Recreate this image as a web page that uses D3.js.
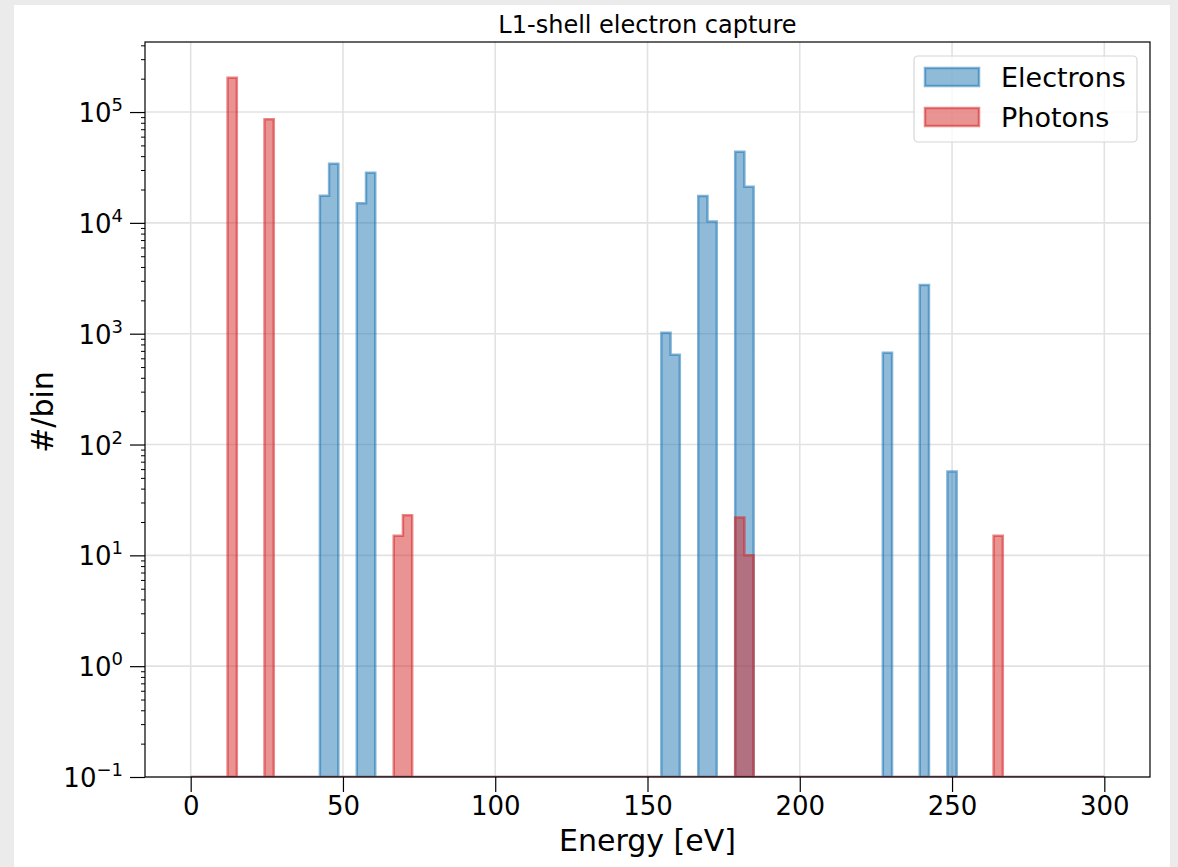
<!DOCTYPE html>
<html>
<head>
<meta charset="utf-8">
<script src="https://cdn.jsdelivr.net/npm/d3@7"></script>
<style>
  html, body { margin: 0; padding: 0; background: #ebebeb; }
  svg { display: block; }
  text { font-family: "DejaVu Sans", sans-serif; fill: #000; }
</style>
</head>
<body>
<script>
// ---- data ----
const title = "L1-shell electron capture";
const xLabel = "Energy [eV]";
const yLabel = "#/bin";
const binRange = [0, 300];
const binCount = 99;               // 100 edges from 0 to 300
const electronBins   = [14, 15, 18, 19, 51, 52, 55, 56, 59, 60, 75, 79, 82];
const electronCounts = [17600, 34100, 15000, 28300, 1020, 646, 17500, 10300, 43800, 21200, 673, 2750, 57];
const photonBins     = [4, 8, 22, 23, 59, 60, 87];
const photonCounts   = [204000, 86000, 15, 23, 22, 10, 15];
const xTicks = [0, 50, 100, 150, 200, 250, 300];
const yTickExponents = [-1, 0, 1, 2, 3, 4, 5];
const seriesNames = ["Electrons", "Photons"];

// ---- layout ----
const W = 1178, H = 867;
const M = { left: 145, right: 1150, top: 42, bottom: 777 };

const svg = d3.select("body").append("svg").attr("width", W).attr("height", H);
svg.append("rect").attr("x", 0).attr("y", 0).attr("width", W).attr("height", H).attr("fill", "#ebebeb");
svg.append("rect").attr("x", 14).attr("y", 5).attr("width", 1156).attr("height", H - 5).attr("fill", "#ffffff");

const x = d3.scaleLinear().domain([-15, 315]).range([M.left, M.right]);
const y = d3.scaleLog().domain([0.1, Math.pow(10, 5.632)]).range([M.bottom, M.top]);

const binWidth = (binRange[1] - binRange[0]) / binCount;
const edges = d3.range(binCount + 1).map(i => binRange[0] + i * binWidth);

function fullCounts(bins, counts) {
  const arr = new Array(binCount).fill(0);
  bins.forEach((b, i) => { arr[b] = counts[i]; });
  return arr;
}
const series = [
  { name: seriesNames[0], counts: fullCounts(electronBins, electronCounts), fill: "rgba(31,119,180,0.5)", stroke: "rgba(31,119,180,0.55)" },
  { name: seriesNames[1], counts: fullCounts(photonBins, photonCounts), fill: "rgba(214,39,40,0.5)", stroke: "rgba(214,39,40,0.55)" }
];

// clip
svg.append("defs").append("clipPath").attr("id", "plotclip")
  .append("rect").attr("x", M.left).attr("y", M.top)
  .attr("width", M.right - M.left).attr("height", M.bottom - M.top);

// grid
const grid = svg.append("g");
xTicks.forEach(t => {
  grid.append("line").attr("x1", x(t)).attr("x2", x(t)).attr("y1", M.top).attr("y2", M.bottom)
    .attr("stroke", "#e2e2e2").attr("stroke-width", 1.6);
});
yTickExponents.forEach(e => {
  const yy = y(Math.pow(10, e));
  grid.append("line").attr("x1", M.left).attr("x2", M.right).attr("y1", yy).attr("y2", yy)
    .attr("stroke", "#e2e2e2").attr("stroke-width", 1.6);
});

// histograms (stepfilled)
const yMin = y.domain()[0];
const plotG = svg.append("g").attr("clip-path", "url(#plotclip)");
series.forEach(s => {
  const pts = [[edges[0], yMin]];
  s.counts.forEach((c, i) => {
    const v = c > 0 ? c : yMin;
    pts.push([edges[i], v]);
    pts.push([edges[i + 1], v]);
  });
  pts.push([edges[binCount], yMin]);
  const line = d3.line().x(d => x(d[0])).y(d => y(d[1]));
  plotG.append("path").attr("d", line(pts) + "Z")
    .attr("fill", s.fill).attr("stroke", s.stroke).attr("stroke-width", 2.5)
    .attr("stroke-linejoin", "miter");
});

// spines
svg.append("rect").attr("x", M.left).attr("y", M.top)
  .attr("width", M.right - M.left).attr("height", M.bottom - M.top)
  .attr("fill", "none").attr("stroke", "#000").attr("stroke-width", 1.2);

// x axis ticks
const xAxis = d3.axisBottom(x).tickValues(xTicks).tickSize(15).tickPadding(5).tickFormat(d3.format("d"));
const gx = svg.append("g").attr("transform", `translate(0,${M.bottom})`).call(xAxis);
gx.select(".domain").remove();
gx.selectAll(".tick line").attr("stroke", "#000").attr("stroke-width", 1.2);
gx.selectAll(".tick text").attr("font-size", 26).attr("font-family", "DejaVu Sans").attr("fill", "#000");

// y axis: major ticks
const majorVals = yTickExponents.map(e => Math.pow(10, e));
const yAxis = d3.axisLeft(y).tickValues(majorVals).tickSize(15).tickFormat("");
const gy = svg.append("g").attr("transform", `translate(${M.left},0)`).call(yAxis);
gy.select(".domain").remove();
gy.selectAll(".tick line").attr("stroke", "#000").attr("stroke-width", 1.2);

// minor ticks
const minorVals = [];
for (let e = -1; e <= 5; e++) for (let m = 2; m <= 9; m++) {
  const v = m * Math.pow(10, e);
  if (v <= y.domain()[1]) minorVals.push(v);
}
const yMinor = d3.axisLeft(y).tickValues(minorVals).tickSize(4).tickFormat("");
const gym = svg.append("g").attr("transform", `translate(${M.left},0)`).call(yMinor);
gym.select(".domain").remove();
gym.selectAll(".tick line").attr("stroke", "#000").attr("stroke-width", 1);

// y tick labels with superscripts
yTickExponents.forEach(e => {
  const yy = y(Math.pow(10, e));
  const t = svg.append("text").attr("x", 123).attr("y", yy + 10)
    .attr("text-anchor", "end").attr("font-size", 26);
  t.append("tspan").text("10");
  t.append("tspan").attr("font-size", 18).attr("dy", -11)
    .text(e < 0 ? "\u2212" + Math.abs(e) : String(e));
});

// labels
svg.append("text").attr("x", (M.left + M.right) / 2).attr("y", 33)
  .attr("text-anchor", "middle").attr("font-size", 24).text(title);
svg.append("text").attr("x", (M.left + M.right) / 2).attr("y", 851)
  .attr("text-anchor", "middle").attr("font-size", 30).text(xLabel);
svg.append("text").attr("transform", "translate(53,412) rotate(-90)")
  .attr("text-anchor", "middle").attr("font-size", 30).text(yLabel);

// legend
const lg = svg.append("g");
lg.append("rect").attr("x", 914).attr("y", 56).attr("width", 223).attr("height", 86).attr("rx", 4)
  .attr("fill", "rgba(255,255,255,0.8)").attr("stroke", "#d6d6d6").attr("stroke-width", 1.2);
series.forEach((s, i) => {
  const yy = 68 + i * 40;
  lg.append("rect").attr("x", 925).attr("y", yy).attr("width", 54).attr("height", 18)
    .attr("fill", s.fill).attr("stroke", s.stroke).attr("stroke-width", 2.5);
  lg.append("text").attr("x", 1001).attr("y", yy + 19).attr("font-size", 27).text(s.name);
});
</script>
</body>
</html>
